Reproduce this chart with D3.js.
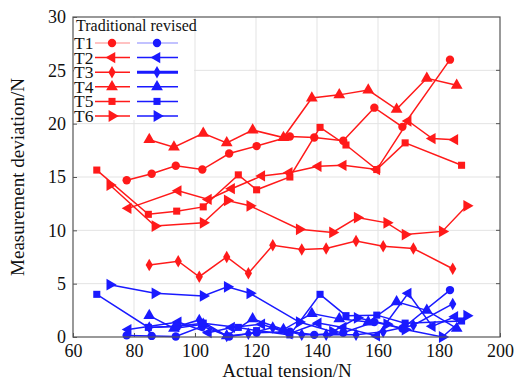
<!DOCTYPE html>
<html>
<head>
<meta charset="utf-8">
<script src="https://cdn.jsdelivr.net/npm/d3@7"></script>
<style>
  body { margin: 0; background: #fff; }
  svg text { font-family: "Liberation Serif", "Times New Roman", serif; }
</style>
</head>
<body>
<div class="canvas-graph"></div>
<script>
// x values (actual tension) for each test, shared by traditional and revised
const xT1 = [77.6, 85.8, 93.7, 102.4, 111.2, 120.2, 131.1, 139.1, 148.6, 158.8, 168.0, 183.6];
const xT2 = [78.1, 94.5, 104.4, 112.0, 121.9, 130.9, 140.4, 148.6, 159.6, 169.9, 177.8, 185.2];
const xT3 = [85.0, 94.5, 101.4, 110.4, 117.5, 125.5, 135.0, 143.0, 152.8, 161.7, 171.6, 184.5];
const xT4 = [85.0, 93.1, 102.7, 110.4, 118.9, 129.0, 138.3, 147.3, 156.8, 166.1, 176.0, 185.8];
const xT5 = [67.8, 84.7, 94.0, 102.7, 114.2, 120.2, 131.1, 141.0, 149.5, 159.6, 168.9, 187.4];
const xT6 = [72.1, 86.9, 102.7, 110.6, 118.0, 134.2, 145.1, 153.2, 162.9, 168.9, 181.1, 189.1];

// traditional method deviations
const tradT1 = [14.7, 15.3, 16.05, 15.7, 17.2, 17.9, 18.8, 18.7, 18.4, 21.5, 19.7, 26.0];
const tradT2 = [12.06, 13.7, 12.9, 13.9, 15.1, 15.4, 16.0, 16.1, 15.7, 20.25, 18.6, 18.5];
const tradT3 = [6.75, 7.1, 5.65, 7.5, 5.97, 8.6, 8.2, 8.3, 9.0, 8.5, 8.3, 6.4];
const tradT4 = [18.5, 17.8, 19.1, 18.2, 19.4, 18.7, 22.4, 22.7, 23.15, 21.35, 24.25, 23.6];
const tradT5 = [15.65, 11.5, 11.8, 12.2, 15.2, 13.8, 15.0, 19.65, 18.0, 15.7, 18.2, 16.1];
const tradT6 = [14.25, 10.4, 10.7, 12.8, 12.3, 10.1, 9.8, 11.2, 10.7, 9.6, 9.9, 12.3];

// revised method deviations
const revT1 = [0.15, 0.1, 0.05, 1.0, 0.05, 0.4, 0.5, 0.2, 0.4, 1.4, 0.8, 4.4];
const revT2 = [0.7, 1.4, 0.4, 0.9, 1.2, 0.3, 1.3, 0.9, 0.1, 4.1, 1.0, 1.9];
const revT3 = [0.9, 1.0, 1.6, 0.1, 0.3, 0.9, 0.2, 0.2, 0.2, 0.5, 1.1, 3.1];
const revT4 = [2.0, 0.8, 1.2, 0.1, 1.7, 0.7, 2.2, 1.7, 1.4, 3.3, 2.5, 0.8];
const revT5 = [4.0, 0.9, 1.0, 1.3, 0.9, 0.6, 0.2, 4.0, 2.0, 2.05, 1.3, 1.5];
const revT6 = [4.9, 4.1, 3.85, 4.7, 4.1, 1.4, 0.5, 1.8, 1.2, 0.7, 0.0, 2.0];

const names = ['T1', 'T2', 'T3', 'T4', 'T5', 'T6'];
const xTicks = [60, 80, 100, 120, 140, 160, 180, 200];
const yTicks = [0, 5, 10, 15, 20, 25, 30];

const xs = [xT1, xT2, xT3, xT4, xT5, xT6];
const trad = [tradT1, tradT2, tradT3, tradT4, tradT5, tradT6];
const rev = [revT1, revT2, revT3, revT4, revT5, revT6];

const dims = { width: 515, height: 383 };
const plot = { left: 73, right: 500, top: 17, bottom: 337 };
const red = '#ff1a1a';
const blue = '#1a1aff';
const serif = '"Liberation Serif", "Times New Roman", serif';

const svg = d3.select('.canvas-graph')
    .append('svg')
    .attr('width', dims.width)
    .attr('height', dims.height);

const x = d3.scaleLinear().domain([60, 200]).range([plot.left, plot.right]);
const y = d3.scaleLinear().domain([0, 30]).range([plot.bottom, plot.top]);

// grid
const grid = svg.append('g');
grid.selectAll('.gx').data(xTicks.slice(1, -1)).enter().append('line')
    .attr('x1', d => x(d)).attr('x2', d => x(d))
    .attr('y1', plot.top).attr('y2', plot.bottom)
    .attr('stroke', '#e3e3e3').attr('stroke-width', 1);
grid.selectAll('.gy').data(yTicks.slice(1, -1)).enter().append('line')
    .attr('x1', plot.left).attr('x2', plot.right)
    .attr('y1', d => y(d)).attr('y2', d => y(d))
    .attr('stroke', '#e3e3e3').attr('stroke-width', 1);

// axes
const xAxis = d3.axisBottom(x).tickValues(xTicks).tickSize(-4).tickPadding(7);
const yAxis = d3.axisLeft(y).tickValues(yTicks).tickSize(-4).tickPadding(7);
const xg = svg.append('g').attr('transform', `translate(0, ${plot.bottom})`).call(xAxis);
const yg = svg.append('g').attr('transform', `translate(${plot.left}, 0)`).call(yAxis);
[xg, yg].forEach(g => {
    g.attr('font-family', serif).attr('font-size', 18);
    g.select('.domain').remove();
    g.selectAll('line').attr('stroke', '#555');
    g.selectAll('text').attr('fill', '#111');
});
// right ticks
svg.append('g').selectAll('line').data(yTicks.slice(1, -1)).enter().append('line')
    .attr('x1', plot.right - 4).attr('x2', plot.right)
    .attr('y1', d => y(d)).attr('y2', d => y(d))
    .attr('stroke', '#555');

const symbols = [
    { type: d3.symbolCircle, size: 55, rot: 0 },
    { type: d3.symbolTriangle, size: 55, rot: -90 },
    { type: d3.symbolDiamond, size: 45, rot: 0 },
    { type: d3.symbolTriangle, size: 60, rot: 0 },
    { type: d3.symbolSquare, size: 50, rot: 0 },
    { type: d3.symbolTriangle, size: 60, rot: 90 }
];
const symPath = i => d3.symbol().type(symbols[i].type).size(symbols[i].size)();

const line = d3.line().x(d => x(d[0])).y(d => y(d[1]));

const drawSeries = (vals, color) => {
    vals.forEach((ys, i) => {
        const pts = xs[i].map((v, k) => [v, ys[k]]);
        const g = svg.append('g');
        g.append('path').attr('d', line(pts))
            .attr('fill', 'none').attr('stroke', color).attr('stroke-width', 1.5);
        g.selectAll('path.m').data(pts).enter().append('path')
            .attr('class', 'm')
            .attr('d', symPath(i))
            .attr('transform', d => `translate(${x(d[0])}, ${y(d[1])}) rotate(${symbols[i].rot})`)
            .attr('fill', color);
    });
};
drawSeries(rev, blue);
drawSeries(trad, red);

// frame
svg.append('rect')
    .attr('x', plot.left).attr('y', plot.top)
    .attr('width', plot.right - plot.left).attr('height', plot.bottom - plot.top)
    .attr('fill', 'none').attr('stroke', '#555').attr('stroke-width', 1.2);

// legend
const legend = svg.append('g');
legend.append('rect')
    .attr('x', plot.left + 1).attr('y', plot.top + 1)
    .attr('width', 120).attr('height', 102)
    .attr('fill', '#fff');
legend.append('text')
    .attr('x', 76).attr('y', 31)
    .attr('font-size', 16).attr('fill', '#111')
    .text('Traditional revised');
names.forEach((n, i) => {
    const cy = 43 + i * 14.6;
    legend.append('text')
        .attr('x', 74).attr('y', cy + 6)
        .attr('font-size', 17.5).attr('fill', '#111')
        .text(n);
    [[95, 130, 112, red], [137, 178, 157, blue]].forEach(([a, b, m, c]) => {
        legend.append('line')
            .attr('x1', a).attr('x2', b).attr('y1', cy).attr('y2', cy)
            .attr('stroke', c)
            .attr('stroke-width', (i === 2 && c === blue) ? 3 : 1.5)
            .attr('opacity', i === 0 ? 0.35 : 1);
        legend.append('path')
            .attr('d', symPath(i))
            .attr('transform', `translate(${m}, ${cy}) rotate(${symbols[i].rot})`)
            .attr('fill', c);
    });
});

// axis titles
svg.append('text')
    .attr('x', 287).attr('y', 377)
    .attr('text-anchor', 'middle')
    .attr('font-size', 19).attr('fill', '#111')
    .text('Actual tension/N');
svg.append('text')
    .attr('transform', 'translate(24, 177) rotate(-90)')
    .attr('text-anchor', 'middle')
    .attr('font-size', 19).attr('fill', '#111')
    .text('Measurement deviation/N');
</script>
</body>
</html>
